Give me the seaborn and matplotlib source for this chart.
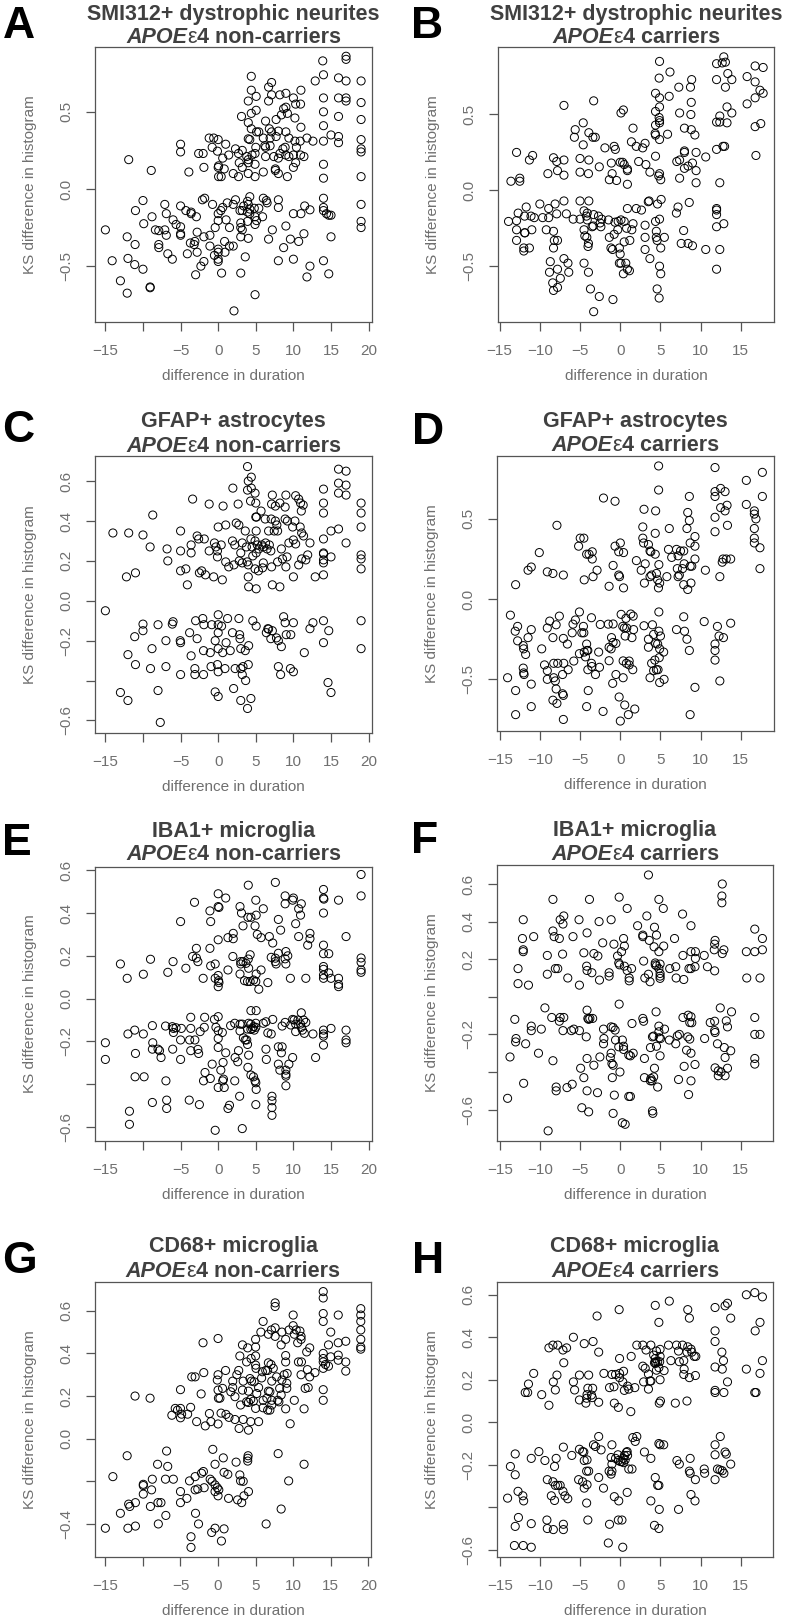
import matplotlib
matplotlib.use("Agg")
import matplotlib.pyplot as plt
import pandas as pd
import seaborn as sns

# (difference in duration, KS difference in histogram)
a_pts = [
    (17, 0.86), (17, 0.84), (13.9, 0.83), (14, 0.74), (12.9, 0.70), (16, 0.72), (17, 0.70), (19, 0.70),
    (4.4, 0.73), (7.1, 0.69), (6.7, 0.66), (4.4, 0.64), (5.05, 0.60), (4.0, 0.57), (6.7, 0.57), (7.1, 0.61),
    (8.2, 0.61), (9.0, 0.62), (10.0, 0.59), (11.0, 0.64), (10.3, 0.55), (10.95, 0.55), (14, 0.59), (16, 0.59),
    (17, 0.59), (17, 0.57), (19, 0.56), (8.7, 0.52), (9.0, 0.53), (5.05, 0.51), (4.4, 0.49), (3.1, 0.47),
    (6.3, 0.44), (7.7, 0.45), (8.4, 0.48), (9.2, 0.49), (10.2, 0.46), (11.0, 0.40), (14, 0.41), (14, 0.50),
    (16, 0.47), (19, 0.45), (4.0, 0.43), (4.4, 0.39), (5.1, 0.37), (5.4, 0.37), (6.8, 0.39), (7.1, 0.37),
    (8.0, 0.375), (9.0, 0.37), (7.7, 0.34), (4.0, 0.325), (4.2, 0.32), (6.0, 0.33), (6.2, 0.28), (6.9, 0.33),
    (9.4, 0.33), (10.2, 0.31), (10.9, 0.31), (11.8, 0.33), (12.6, 0.31), (14, 0.31), (15, 0.35), (16, 0.34),
    (16, 0.30), (19, 0.32), (19, 0.26), (19, 0.24), (-5, 0.29), (-5, 0.24), (-1.2, 0.33), (-0.6, 0.33),
    (0, 0.32), (-0.8, 0.27), (-0.1, 0.245), (1, 0.29), (1.4, 0.22), (2.3, 0.26), (2.7, 0.23), (3.2, 0.25),
    (3.8, 0.21), (4.0, 0.19), (4.0, 0.17), (4.5, 0.22), (4.9, 0.23), (5.0, 0.27), (6.3, 0.27), (6.9, 0.28),
    (7.4, 0.21), (8.2, 0.23), (8.6, 0.26), (8.9, 0.27), (9.0, 0.22), (9.4, 0.21), (10.0, 0.22), (10.4, 0.27),
    (10.3, 0.17), (10.95, 0.22), (11.4, 0.21), (10.0, 0.14), (8.0, 0.20), (6.3, 0.21), (4.9, 0.16), (3.2, 0.14),
    (2.8, 0.17), (2.0, 0.10), (2.7, 0.08), (4.0, 0.10), (4.9, 0.08), (6.0, 0.11), (7.6, 0.13), (7.6, 0.12),
    (8.0, 0.10), (9.2, 0.08), (0.05, 0.15), (0, 0.14), (0.05, 0.08), (0.4, 0.08), (0.8, 0.13), (0.6, 0.20),
    (-1.9, 0.14), (-2.6, 0.23), (-2.0, 0.23), (-3.9, 0.11), (-8.9, 0.12), (-11.9, 0.19), (14, 0.16), (14, 0.07),
    (19, 0.08),
    (-10, -0.075), (-11, -0.14), (-7.1, -0.10), (-6.9, -0.16), (-5, -0.11), (-4.3, -0.14), (-3.6, -0.15),
    (-3.6, -0.16), (-2.9, -0.18), (-2.1, -0.07), (-1.8, -0.06), (-0.75, -0.10), (0, -0.16), (0, -0.205),
    (0.35, -0.14), (0.6, -0.12), (1.2, -0.09), (2.0, -0.10), (2.3, -0.07), (2.9, -0.14), (3.2, -0.14),
    (3.4, -0.11), (3.9, -0.08), (4.0, -0.10), (4.2, -0.05), (4.2, -0.13), (4.8, -0.125), (3.9, -0.15),
    (4.2, -0.16), (4.9, -0.18), (5.4, -0.125), (5.9, -0.18), (6.0, -0.06), (6.4, -0.075), (6.5, -0.09),
    (8.0, -0.07), (8.0, -0.12), (10, -0.16), (11, -0.16), (11.5, -0.11), (12.2, -0.135), (14, -0.06),
    (14, -0.12), (14, -0.14), (14.4, -0.16), (14.7, -0.17), (15, -0.17), (19, -0.10), (19, -0.21), (19, -0.25),
    (-15, -0.265), (-8.35, -0.265), (-7.9, -0.36), (-7.9, -0.38), (-7.1, -0.265), (-6.9, -0.30), (-6.7, -0.42),
    (-6.1, -0.455), (-6.0, -0.20), (-5.6, -0.23), (-5, -0.245), (-5, -0.29), (-5, -0.30), (-4.1, -0.42),
    (-3.7, -0.35), (-3.2, -0.36), (-3.1, -0.34), (-2.8, -0.28), (-2.8, -0.41), (-3.0, -0.556), (-2.3, -0.50),
    (-1.9, -0.47), (-1.9, -0.31), (-1.1, -0.30), (-1.1, -0.37), (-0.5, -0.43), (-0.4, -0.25), (0, -0.39),
    (0, -0.41), (0, -0.455), (0, -0.47), (0.45, -0.545), (0.85, -0.34), (0.9, -0.41), (1.05, -0.20),
    (1.5, -0.25), (1.5, -0.37), (2.0, -0.37), (2.1, -0.79), (3.0, -0.545), (3.0, -0.31), (3.0, -0.25),
    (3.2, -0.265), (3.0, -0.22), (3.6, -0.44), (4.0, -0.32), (3.9, -0.21), (4.9, -0.23), (5.1, -0.205),
    (4.9, -0.685), (6.7, -0.325), (7.2, -0.265), (8.0, -0.465), (8.7, -0.38), (9.0, -0.24), (9.6, -0.325),
    (10, -0.455), (10.7, -0.34), (11.4, -0.29), (11.8, -0.57), (12.2, -0.50), (14, -0.465), (14.7, -0.55),
    (15, -0.31), (-9.05, -0.635), (-9.05, -0.64), (-12.1, -0.31), (-11.05, -0.36), (-12.0, -0.45),
    (-11.1, -0.49), (-10.0, -0.52), (-14.1, -0.465), (-13.0, -0.595), (-12.1, -0.675), (-9.9, -0.225),
    (-8.8, -0.18), (-7.9, -0.27),
]

b_pts = [
    (12.9, 0.88), (12.7, 0.84), (12.0, 0.835), (13.1, 0.845), (4.9, 0.85), (16.8, 0.82), (17.8, 0.81),
    (6.2, 0.78), (13.4, 0.77), (13.9, 0.73), (12.0, 0.73), (8.9, 0.73), (4.85, 0.74), (15.8, 0.75),
    (16.8, 0.715), (17.4, 0.66), (17.8, 0.64), (16.8, 0.61), (13.1, 0.68), (7.3, 0.68), (8.75, 0.68),
    (6.1, 0.62), (4.4, 0.64), (4.9, 0.61), (8.85, 0.58), (15.8, 0.57), (-3.3, 0.59), (-7.0, 0.56),
    (0.1, 0.51), (0.4, 0.53), (4.4, 0.52), (4.9, 0.55), (13.3, 0.55), (13.9, 0.51), (7.4, 0.51), (8.8, 0.50),
    (12.0, 0.45), (12.4, 0.49), (12.4, 0.45), (13.3, 0.445), (4.9, 0.46), (4.9, 0.445), (4.85, 0.48),
    (1.6, 0.41), (4.4, 0.43), (8.0, 0.41), (8.85, 0.40), (16.8, 0.42), (17.5, 0.44), (-5.6, 0.40),
    (-4.6, 0.445), (-3.9, 0.38), (-5.7, 0.35), (-3.4, 0.35), (-3.1, 0.35), (4.35, 0.375), (4.4, 0.364),
    (5.9, 0.37), (9.3, 0.365), (-4.6, 0.30), (-1.9, 0.28), (-0.75, 0.29), (-0.6, 0.27), (1.4, 0.32),
    (2.0, 0.29), (2.8, 0.28), (3.1, 0.31), (4.9, 0.335), (12.0, 0.27), (12.8, 0.29), (13.0, 0.29),
    (8.0, 0.26), (8.0, 0.25), (9.45, 0.25), (10.65, 0.22), (16.9, 0.23), (-12.9, 0.25), (-10.9, 0.23),
    (-11.3, 0.20), (-8.3, 0.215), (-7.9, 0.19), (-7.0, 0.20), (-5.0, 0.21), (-3.9, 0.20), (-2.6, 0.155),
    (-1.1, 0.18), (0.0, 0.185), (0.3, 0.185), (0.5, 0.17), (0.9, 0.14), (0.9, 0.13), (2.3, 0.19),
    (3.2, 0.17), (3.7, 0.12), (4.4, 0.225), (4.8, 0.095), (4.9, 0.11), (5.05, 0.07), (7.05, 0.19),
    (7.4, 0.20), (8.0, 0.145), (8.45, 0.16), (9.0, 0.18), (9.45, 0.13), (9.45, 0.05), (12.4, 0.05),
    (-7.8, 0.13), (-7.0, 0.10), (-9.0, 0.11), (-5.0, 0.12), (-3.95, 0.11), (-1.35, 0.07), (-0.45, 0.065),
    (-1.0, 0.11), (0.9, 0.04), (7.4, 0.08), (-12.5, 0.06), (-13.6, 0.06), (-12.5, 0.08),
    (-10, -0.09), (-8.9, -0.12), (-8.1, -0.09), (-7.0, -0.07), (-5.0, -0.07), (-3.9, -0.07), (-4.5, -0.135),
    (-4.1, -0.15), (-4.2, -0.17), (-4.1, -0.195), (-3.3, -0.16), (-2.7, -0.17), (-2.3, -0.19), (-1.45, -0.195),
    (-0.65, -0.21), (-0.25, -0.205), (0.1, -0.195), (0.5, -0.205), (0.9, -0.12), (2.0, -0.12), (2.65, -0.13),
    (3.5, -0.075), (3.6, -0.07), (4.65, -0.09), (5.1, -0.06), (7.2, -0.11), (7.0, -0.15), (8.6, -0.08),
    (12.0, -0.12), (12.0, -0.13), (12.0, -0.16), (12.9, -0.22), (12.0, -0.24), (12.4, -0.39), (10.65, -0.39),
    (12.0, -0.52), (7.9, -0.265), (7.6, -0.35), (8.45, -0.35), (9.0, -0.365), (-13.9, -0.205),
    (-12.9, -0.20), (-12.7, -0.15), (-11.9, -0.17), (-11.9, -0.28), (-11.85, -0.28), (-11.7, -0.11),
    (-11.1, -0.17), (-10.7, -0.18), (-11.0, -0.26), (-12.9, -0.26), (-12.9, -0.33), (-12.0, -0.38),
    (-12.0, -0.40), (-11.3, -0.38), (-9.65, -0.18), (-9.2, -0.26), (-8.9, -0.18), (-8.3, -0.27),
    (-8.2, -0.33), (-8.3, -0.38), (-7.9, -0.155), (-7.8, -0.33), (-8.7, -0.47), (-8.8, -0.54), (-8.4, -0.61),
    (-8.3, -0.66), (-7.8, -0.64), (-7.8, -0.52), (-7.45, -0.58), (-7.0, -0.45), (-6.5, -0.48), (-6.4, -0.54),
    (-6.7, -0.155), (-5.85, -0.19), (-5.0, -0.19), (-4.5, -0.26), (-4.4, -0.30), (-4.5, -0.48), (-4.15, -0.31),
    (-4.0, -0.37), (-3.95, -0.35), (-3.95, -0.54), (-3.7, -0.65), (-3.5, -0.24), (-3.35, -0.235),
    (-2.5, -0.215), (-2.4, -0.24), (-2.6, -0.70), (-3.3, -0.80), (-1.35, -0.31), (-1.15, -0.38), (-0.95, -0.39),
    (-0.75, -0.29), (-0.3, -0.26), (-0.9, -0.72), (-0.1, -0.38), (0.0, -0.42), (-0.1, -0.48), (0.1, -0.48),
    (0.4, -0.55), (0.7, -0.48), (0.9, -0.52), (1.15, -0.53), (0.5, -0.34), (1.2, -0.33), (1.45, -0.26),
    (0.8, -0.25), (1.6, -0.22), (3.1, -0.23), (3.1, -0.31), (3.1, -0.39), (3.7, -0.45), (4.4, -0.205),
    (4.5, -0.27), (4.5, -0.31), (4.6, -0.33), (4.6, -0.65), (4.85, -0.71), (5.05, -0.55), (4.9, -0.50),
    (5.05, -0.38), (4.9, -0.19), (5.5, -0.31),
]

c_pts = [
    (3.9, 0.673), (4.4, 0.62), (4.0, 0.60), (3.9, 0.555), (4.4, 0.565), (4.9, 0.54), (4.3, 0.50), (5.0, 0.49),
    (1.95, 0.565), (-3.4, 0.51), (-1.2, 0.485), (0.65, 0.475), (2.65, 0.485), (7.2, 0.53), (9.0, 0.53),
    (10.3, 0.527), (10.7, 0.51), (10.95, 0.49), (11.3, 0.48), (11.05, 0.45), (7.1, 0.485), (7.6, 0.475),
    (8.2, 0.49), (8.9, 0.47), (14, 0.56), (14, 0.49), (14, 0.44), (16, 0.66), (17, 0.65), (16, 0.59),
    (17, 0.58), (16, 0.54), (17, 0.53), (19, 0.49), (19, 0.44), (19, 0.37), (5.0, 0.42), (5.1, 0.42),
    (5.7, 0.45), (6.25, 0.41), (7.05, 0.41), (7.6, 0.40), (8.9, 0.41), (9.2, 0.40), (10.2, 0.40), (9.9, 0.37),
    (10.9, 0.37), (11.1, 0.34), (11.35, 0.325), (7.8, 0.38), (7.45, 0.35), (7.9, 0.35), (6.7, 0.35),
    (5.05, 0.35), (3.6, 0.35), (1.0, 0.38), (0.0, 0.37), (2.4, 0.39), (2.75, 0.38), (4.35, 0.31), (3.0, 0.24),
    (3.2, 0.29), (3.75, 0.27), (4.5, 0.27), (4.9, 0.30), (5.2, 0.28), (5.8, 0.28), (6.0, 0.27), (6.3, 0.29),
    (6.8, 0.28), (6.5, 0.26), (7.0, 0.25), (8.4, 0.26), (9.4, 0.29), (10.0, 0.305), (10.3, 0.285), (12.2, 0.29),
    (12.9, 0.12), (14, 0.31), (14, 0.24), (14, 0.235), (14, 0.205), (14, 0.19), (14, 0.13), (15, 0.22),
    (15, 0.35), (16, 0.36), (17, 0.29), (19, 0.23), (19, 0.21), (19, 0.16), (-14, 0.34), (-11.9, 0.34),
    (-10.0, 0.33), (-8.7, 0.43), (-9.05, 0.27), (-12.2, 0.12), (-11.0, 0.14), (-6.8, 0.26), (-6.7, 0.20),
    (-5.0, 0.35), (-5.0, 0.25), (-5.0, 0.15), (-4.3, 0.16), (-4.1, 0.08), (-3.6, 0.28), (-3.6, 0.24),
    (-2.8, 0.325), (-2.6, 0.31), (-1.85, 0.31), (-2.5, 0.14), (-2.2, 0.15), (-1.7, 0.13), (-1.2, 0.25),
    (-0.5, 0.29), (-0.3, 0.27), (-0.1, 0.25), (-0.1, 0.22), (-0.6, 0.12), (0.55, 0.105), (0.4, 0.28),
    (1.0, 0.195), (1.4, 0.17), (1.9, 0.30), (2.1, 0.18), (2.2, 0.28), (2.8, 0.20), (3.2, 0.19), (3.85, 0.195),
    (4.0, 0.18), (4.0, 0.12), (4.05, 0.07), (5.05, 0.06), (4.9, 0.16), (5.35, 0.15), (6.0, 0.19), (5.9, 0.165),
    (7.1, 0.17), (7.2, 0.08), (8.2, 0.07), (7.9, 0.195), (8.55, 0.21), (9.0, 0.17), (9.15, 0.22), (10.0, 0.12),
    (10.7, 0.18), (11.1, 0.21), (11.65, 0.205), (11.9, 0.23), (4.6, 0.225), (5.05, 0.24), (5.4, 0.26),
    (-15, -0.05), (-10, -0.117), (-6.0, -0.105), (-6.1, -0.117), (-8.0, -0.12), (-10, -0.15), (-11.1, -0.18),
    (-3.0, -0.10), (-2.05, -0.089), (-1.9, -0.12), (-0.85, -0.12), (0, -0.07), (0, -0.12), (0.45, -0.127),
    (1.25, -0.089), (2.75, -0.089), (4.6, -0.10), (5.05, -0.127), (6.7, -0.142), (6.6, -0.14), (6.4, -0.16),
    (7.0, -0.19), (7.2, -0.15), (7.75, -0.186), (8.0, -0.20), (8.4, -0.23), (8.7, -0.08), (8.9, -0.11),
    (9.05, -0.17), (9.65, -0.17), (10.0, -0.11), (12.2, -0.14), (12.6, -0.11), (14, -0.10), (14, -0.21),
    (14.7, -0.15), (19, -0.10), (19, -0.24), (11.45, -0.26), (-5.05, -0.20), (-5.0, -0.21), (-3.8, -0.16),
    (-2.8, -0.19), (-1.95, -0.25), (-1.05, -0.26), (-0.4, -0.20), (0, -0.16), (0, -0.24), (0.6, -0.26),
    (1.05, -0.21), (1.6, -0.25), (1.9, -0.16), (2.85, -0.17), (2.9, -0.19), (3.0, -0.24), (3.6, -0.25),
    (4.05, -0.225), (-3.6, -0.276), (-3.1, -0.34), (-3.1, -0.37), (-1.95, -0.37), (-0.95, -0.33),
    (-0.1, -0.32), (0, -0.356), (0.9, -0.34), (2.25, -0.34), (3.0, -0.34), (3.2, -0.37), (3.3, -0.33),
    (4.0, -0.32), (3.65, -0.40), (2.05, -0.44), (-0.4, -0.457), (0, -0.48), (3.0, -0.50), (3.9, -0.54),
    (4.35, -0.49), (8.0, -0.33), (8.3, -0.37), (9.6, -0.34), (10.0, -0.356), (14.6, -0.41), (15, -0.46),
    (-5.0, -0.37), (-6.95, -0.33), (-9.0, -0.34), (-11.0, -0.32), (-12.0, -0.27), (-8.8, -0.24),
    (-6.95, -0.20), (-13.0, -0.46), (-12.0, -0.50), (-8.0, -0.45), (-7.7, -0.61),
]

d_pts = [
    (4.77, 0.83), (11.8, 0.82), (17.7, 0.79), (15.7, 0.74), (4.77, 0.68), (11.8, 0.67), (12.5, 0.69),
    (13.05, 0.67), (11.8, 0.64), (8.6, 0.64), (17.7, 0.64), (-2.1, 0.63), (-0.66, 0.61), (15.7, 0.59),
    (12.5, 0.57), (13.05, 0.55), (13.3, 0.585), (16.7, 0.55), (16.7, 0.53), (16.9, 0.50), (2.95, 0.56),
    (4.4, 0.55), (8.4, 0.54), (8.6, 0.49), (11.8, 0.51), (-7.9, 0.46), (13.35, 0.46), (2.8, 0.45), (6.1, 0.44),
    (8.3, 0.44), (16.7, 0.44), (11.8, 0.42), (4.35, 0.41), (16.7, 0.38), (16.7, 0.35), (17.4, 0.32),
    (9.3, 0.39), (-5.2, 0.33), (-5.0, 0.38), (-4.55, 0.38), (2.8, 0.38), (2.9, 0.35), (3.5, 0.34), (3.7, 0.30),
    (3.8, 0.295), (4.35, 0.28), (0.0, 0.35), (-0.66, 0.33), (-0.2, 0.295), (0.4, 0.29), (-4.2, 0.28),
    (-3.9, 0.28), (-3.5, 0.295), (-3.5, 0.25), (-10.1, 0.29), (6.0, 0.31), (7.0, 0.31), (7.2, 0.27),
    (7.5, 0.30), (7.9, 0.30), (8.7, 0.35), (9.3, 0.33), (9.3, 0.25), (12.8, 0.25), (13.2, 0.25), (13.75, 0.25),
    (12.7, 0.23), (17.4, 0.19), (-11.1, 0.20), (-11.5, 0.18), (-9.1, 0.17), (-8.4, 0.16), (-7.1, 0.15),
    (-3.4, 0.14), (-2.9, 0.18), (-0.9, 0.21), (-0.2, 0.15), (-0.1, 0.14), (-1.4, 0.08), (0.4, 0.07),
    (-4.5, 0.12), (-13.05, 0.09), (2.0, 0.24), (2.6, 0.18), (3.1, 0.22), (3.0, 0.10), (3.7, 0.14), (3.9, 0.15),
    (4.5, 0.16), (4.8, 0.215), (4.65, 0.12), (4.9, 0.10), (4.75, 0.07), (5.8, 0.14), (7.1, 0.19), (7.2, 0.14),
    (7.35, 0.15), (7.75, 0.19), (7.9, 0.09), (8.4, 0.06), (8.7, 0.205), (8.9, 0.205), (8.8, 0.10), (10.6, 0.18),
    (12.4, 0.14), (7.95, 0.22), (6.4, 0.26),
    (-13.7, -0.10), (-12.8, -0.17), (-13.1, -0.20), (-12.8, -0.26), (-12.1, -0.29), (-12.05, -0.31),
    (-11.8, -0.345), (-11.5, -0.24), (-11.1, -0.19), (-12.1, -0.43), (-12.05, -0.46), (-12.0, -0.47),
    (-11.1, -0.53), (-14.05, -0.49), (-13.05, -0.57), (-13.05, -0.72), (-11.1, -0.67), (-9.8, -0.31),
    (-9.45, -0.41), (-9.1, -0.446), (-9.1, -0.50), (-9.1, -0.18), (-8.8, -0.137), (-8.4, -0.24),
    (-8.3, -0.40), (-8.3, -0.49), (-8.1, -0.51), (-8.0, -0.56), (-8.4, -0.63), (-7.9, -0.65), (-8.0, -0.16),
    (-7.6, -0.106), (-7.2, -0.59), (-7.1, -0.60), (-7.1, -0.75), (-7.1, -0.245), (-7.05, -0.40), (-6.6, -0.28),
    (-6.5, -0.44), (-7.8, -0.40), (-7.2, -0.47), (-5.8, -0.386), (-6.0, -0.21), (-5.9, -0.156), (-5.6, -0.13),
    (-5.1, -0.08), (-5.1, -0.34), (-4.8, -0.21), (-4.55, -0.21), (-4.6, -0.17), (-4.5, -0.33), (-4.35, -0.36),
    (-4.2, -0.28), (-4.15, -0.32), (-4.05, -0.32), (-4.05, -0.44), (-4.0, -0.57), (-4.2, -0.67), (-3.6, -0.116),
    (-3.6, -0.40), (-3.55, -0.42), (-3.1, -0.47), (-2.6, -0.425), (-2.5, -0.158), (-2.7, -0.33), (-2.15, -0.70),
    (-1.4, -0.384), (-1.5, -0.156), (-1.4, -0.30), (-1.15, -0.31), (-1.1, -0.24), (-0.95, -0.525), (-0.9, -0.27),
    (-0.55, -0.276), (-0.9, -0.155), (-0.55, -0.47), (-0.15, -0.61), (0.0, -0.76), (0.1, -0.095), (0.3, -0.17),
    (0.5, -0.18), (0.35, -0.49), (0.55, -0.66), (0.7, -0.12), (0.8, -0.18), (0.6, -0.23), (0.35, -0.385),
    (0.75, -0.40), (1.1, -0.386), (1.1, -0.41), (1.3, -0.093), (1.6, -0.106), (1.45, -0.24), (1.55, -0.44),
    (1.0, -0.72), (1.8, -0.685), (1.65, -0.19), (2.95, -0.166), (3.5, -0.25), (3.5, -0.30), (3.7, -0.49),
    (4.0, -0.16), (3.9, -0.40), (4.15, -0.22), (4.15, -0.446), (4.3, -0.38), (4.5, -0.44), (4.7, -0.44),
    (4.4, -0.276), (4.8, -0.20), (5.0, -0.23), (4.65, -0.28), (4.85, -0.365), (4.9, -0.31), (4.8, -0.08),
    (4.9, -0.52), (5.4, -0.33), (5.45, -0.50), (7.0, -0.19), (7.9, -0.11), (8.0, -0.20), (8.3, -0.25),
    (8.6, -0.32), (9.3, -0.55), (8.7, -0.72), (10.45, -0.14), (12.1, -0.17), (12.3, -0.23), (11.8, -0.28),
    (11.8, -0.32), (11.8, -0.38), (12.85, -0.24), (12.4, -0.51), (13.75, -0.15),
]

e_pts = [
    (19, 0.58), (19, 0.48), (7.6, 0.543), (4.0, 0.53), (0, 0.49), (1.0, 0.47), (0, 0.43), (0.1, 0.426),
    (-3.15, 0.45), (-1.1, 0.41), (-1.0, 0.36), (-5.0, 0.36), (2.9, 0.43), (3.1, 0.40), (3.95, 0.38),
    (4.35, 0.38), (5.0, 0.46), (5.05, 0.39), (6.0, 0.42), (4.9, 0.34), (3.3, 0.34), (8.9, 0.48), (10.0, 0.47),
    (9.9, 0.46), (11.05, 0.443), (10.7, 0.42), (10.95, 0.39), (8.9, 0.443), (8.0, 0.37), (8.3, 0.32),
    (10.3, 0.35), (14, 0.51), (14, 0.47), (14.05, 0.465), (14, 0.40), (16, 0.46), (17, 0.29), (14, 0.25),
    (14, 0.21), (14.7, 0.21), (14, 0.15), (14, 0.137), (14, 0.11), (14, 0.095), (14.7, 0.12), (15, 0.095),
    (16, 0.095), (16, 0.056), (16, 0.067), (19, 0.19), (19, 0.17), (19, 0.134), (19, 0.123), (10.7, 0.29),
    (11.9, 0.25), (12.2, 0.28), (12.2, 0.305), (11.65, 0.095), (9.6, 0.095), (6.8, 0.29), (7.25, 0.26),
    (5.2, 0.30), (5.7, 0.285), (2.0, 0.305), (2.0, 0.28), (1.3, 0.285), (0, 0.275), (-2.9, 0.235),
    (-1.1, 0.235), (-3.4, 0.197), (-2.9, 0.19), (-2.7, 0.173), (1.95, 0.197), (3.0, 0.173), (3.0, 0.162),
    (3.3, 0.173), (4.0, 0.185), (4.25, 0.205), (4.05, 0.142), (2.9, 0.115), (3.9, 0.08), (4.25, 0.08),
    (4.7, 0.087), (5.05, 0.115), (5.0, 0.08), (5.4, 0.044), (5.7, 0.134), (6.6, 0.075), (7.05, 0.193),
    (7.6, 0.189), (7.6, 0.173), (7.7, 0.162), (8.0, 0.212), (9.0, 0.22), (9.25, 0.20), (8.9, 0.186),
    (9.0, 0.162), (3.5, 0.084), (3.7, 0.165), (-0.4, 0.162), (-1.0, 0.153), (-0.4, 0.095), (0, 0.108),
    (0.05, 0.084), (0, 0.056), (0.1, 0.075), (1.3, 0.134), (-2.0, 0.095), (-4.3, 0.142), (-6.0, 0.173),
    (-6.7, 0.123), (-9.0, 0.184), (-9.95, 0.114), (-13.0, 0.162), (-12.1, 0.095),
    (-15, -0.206), (-15, -0.284), (-12.0, -0.165), (-11.1, -0.147), (-9.95, -0.165), (-11.0, -0.256),
    (-11.05, -0.365), (-9.85, -0.365), (-11.8, -0.526), (-11.8, -0.587), (-8.75, -0.126), (-8.7, -0.206),
    (-8.75, -0.236), (-8.0, -0.236), (-7.8, -0.243), (-7.6, -0.275), (-7.0, -0.128), (-6.1, -0.131),
    (-5.95, -0.139), (-5.95, -0.158), (-5.6, -0.136), (-6.05, -0.236), (-6.95, -0.384), (-6.85, -0.474),
    (-6.85, -0.513), (-8.75, -0.485), (-4.9, -0.139), (-5.0, -0.193), (-5.0, -0.284), (-3.65, -0.087),
    (-3.65, -0.139), (-3.8, -0.193), (-3.65, -0.243), (-3.85, -0.474), (-3.1, -0.193), (-2.7, -0.237),
    (-2.6, -0.256), (-2.5, -0.495), (-2.4, -0.154), (-1.8, -0.087), (-1.85, -0.134), (-1.75, -0.345),
    (-1.95, -0.384), (-1.05, -0.373), (-0.8, -0.306), (-0.5, -0.097), (-0.3, -0.134), (0, -0.084),
    (0, -0.15), (0, -0.186), (0, -0.228), (-0.4, -0.615), (0, -0.415), (0.35, -0.334), (0.55, -0.158),
    (0.65, -0.298), (0.7, -0.376), (0.8, -0.415), (0.6, -0.384), (1.0, -0.253), (1.3, -0.513), (1.5, -0.498),
    (1.65, -0.126), (2.2, -0.115), (2.25, -0.275), (2.2, -0.384), (2.6, -0.295), (2.7, -0.243), (2.85, -0.456),
    (2.9, -0.119), (2.9, -0.151), (3.2, -0.119), (3.2, -0.607), (3.35, -0.183), (3.6, -0.193), (3.8, -0.193),
    (3.9, -0.142), (3.9, -0.214), (4.05, -0.115), (4.05, -0.264), (3.95, -0.321), (4.35, -0.119),
    (4.35, -0.144), (4.35, -0.357), (4.55, -0.139), (4.7, -0.131), (4.8, -0.147), (4.35, -0.056),
    (5.05, -0.056), (5.0, -0.115), (5.0, -0.134), (4.9, -0.384), (5.0, -0.393), (5.05, -0.424), (5.0, -0.495),
    (4.7, -0.365), (6.0, -0.115), (6.35, -0.108), (6.6, -0.16), (7.05, -0.165), (7.25, -0.097), (6.35, -0.236),
    (6.4, -0.284), (7.15, -0.456), (7.15, -0.477), (7.15, -0.509), (7.15, -0.545), (8.0, -0.225),
    (8.5, -0.225), (8.4, -0.253), (8.0, -0.306), (8.2, -0.334), (8.5, -0.128), (9.0, -0.334), (9.0, -0.353),
    (9.0, -0.362), (9.0, -0.407), (9.4, -0.306), (9.9, -0.275), (9.65, -0.123), (9.9, -0.097), (10.1, -0.1),
    (10.3, -0.119), (10.3, -0.154), (10.6, -0.1), (11.05, -0.066), (10.95, -0.119), (11.05, -0.134),
    (11.2, -0.147), (11.35, -0.1), (11.45, -0.162), (11.65, -0.111), (12.6, -0.165), (12.95, -0.275),
    (14, -0.147), (14, -0.165), (14, -0.175), (14, -0.217), (15, -0.139), (17, -0.147), (17, -0.193),
    (17, -0.206), (8.9, -0.111),
]

f_pts = [
    (3.5, 0.648), (12.7, 0.60), (12.65, 0.536), (12.65, 0.50), (-8.4, 0.518), (-3.85, 0.518), (-0.15, 0.53),
    (4.8, 0.518), (5.35, 0.47), (0.85, 0.47), (7.75, 0.44), (3.3, 0.43), (-7.05, 0.43), (-7.5, 0.41),
    (-12.1, 0.41), (-5.15, 0.41), (-1.15, 0.41), (-2.65, 0.40), (-7.15, 0.387), (2.15, 0.378), (4.25, 0.37),
    (8.8, 0.378), (16.75, 0.36), (-8.4, 0.35), (-8.25, 0.32), (-7.6, 0.31), (-10.8, 0.32), (-12.2, 0.31),
    (-5.9, 0.32), (-4.15, 0.34), (2.8, 0.328), (2.8, 0.32), (3.6, 0.30), (4.5, 0.328), (0.4, 0.31), (-0.8, 0.28),
    (0.5, 0.27), (-2.2, 0.287), (6.75, 0.31), (5.4, 0.27), (4.2, 0.266), (11.8, 0.30), (11.75, 0.28),
    (17.7, 0.31), (-12.1, 0.25), (-12.1, 0.24), (-9.1, 0.22), (-7.2, 0.227), (-3.3, 0.23), (-2.8, 0.217),
    (-4.55, 0.234), (-0.35, 0.217), (0.15, 0.24), (4.8, 0.24), (7.8, 0.22), (8.8, 0.24), (9.35, 0.24),
    (10.45, 0.22), (11.7, 0.25), (12.7, 0.23), (12.9, 0.25), (15.7, 0.24), (16.75, 0.24), (17.7, 0.25),
    (9.35, 0.204), (-0.2, 0.18), (-0.1, 0.17), (0.5, 0.163), (1.4, 0.15), (0.85, 0.14), (1.1, 0.10),
    (1.1, 0.085), (-4.2, 0.163), (-4.15, 0.14), (-3.55, 0.128), (-1.4, 0.128), (-1.4, 0.11), (-2.6, 0.089),
    (-5.1, 0.062), (-6.55, 0.10), (-9.1, 0.12), (-8.1, 0.15), (-7.8, 0.15), (-12.75, 0.15), (-12.75, 0.07),
    (-11.45, 0.062), (2.9, 0.19), (3.05, 0.10), (3.7, 0.08), (3.5, 0.12), (4.35, 0.18), (4.35, 0.17),
    (4.5, 0.165), (4.8, 0.15), (4.95, 0.124), (4.95, 0.11), (4.95, 0.098), (4.95, 0.174), (6.15, 0.15),
    (6.9, 0.16), (6.95, 0.10), (7.9, 0.092), (8.55, 0.15), (8.8, 0.15), (9.3, 0.16), (10.85, 0.16),
    (11.75, 0.138), (15.75, 0.10), (17.4, 0.10),
    (-0.15, -0.039), (-9.4, -0.059), (-8.55, -0.11), (-7.5, -0.11), (-7.6, -0.13), (-7.05, -0.11),
    (-13.15, -0.12), (-11.1, -0.156), (-11.1, -0.18), (-9.85, -0.172), (-7.15, -0.18), (-6.1, -0.18),
    (-5.8, -0.172), (-5.1, -0.18), (-4.15, -0.071), (-4.05, -0.115), (-3.95, -0.12), (-3.8, -0.115),
    (-3.45, -0.115), (-4.25, -0.213), (-2.1, -0.172), (-2.05, -0.222), (-2.1, -0.25), (-1.15, -0.16),
    (-0.9, -0.163), (-0.65, -0.177), (-0.6, -0.23), (-0.2, -0.266), (0.25, -0.23), (0.4, -0.263), (0.4, -0.28),
    (1.05, -0.31), (1.25, -0.314), (1.6, -0.30), (1.45, -0.142), (-1.15, -0.30), (-1.25, -0.323),
    (-1.05, -0.355), (-0.9, -0.364), (-1.0, -0.43), (-0.05, -0.40), (-2.55, -0.32), (-3.3, -0.364),
    (-4.15, -0.328), (-4.95, -0.38), (-4.55, -0.43), (-4.15, -0.50), (-2.85, -0.51), (-4.8, -0.59),
    (-3.95, -0.612), (-0.9, -0.62), (-0.75, -0.523), (0.25, -0.67), (0.6, -0.678), (1.05, -0.53), (1.25, -0.53),
    (-6.0, -0.465), (-6.65, -0.483), (-8.0, -0.48), (-8.0, -0.50), (-9.0, -0.713), (-8.4, -0.34),
    (-10.2, -0.30), (-13.0, -0.222), (-13.05, -0.24), (-11.8, -0.25), (-13.75, -0.32), (-12.05, -0.46),
    (-14.05, -0.54), (2.8, -0.115), (2.9, -0.13), (3.0, -0.328), (3.0, -0.43), (3.8, -0.435), (3.75, -0.447),
    (4.15, -0.426), (3.95, -0.447), (4.0, -0.607), (4.05, -0.62), (4.25, -0.38), (3.75, -0.27), (4.5, -0.263),
    (4.0, -0.213), (4.15, -0.209), (4.65, -0.48), (4.45, -0.08), (4.8, -0.156), (4.8, -0.186), (4.85, -0.218),
    (5.0, -0.222), (4.95, -0.314), (5.5, -0.172), (6.1, -0.23), (6.9, -0.25), (7.1, -0.208), (7.35, -0.2),
    (7.25, -0.44), (7.95, -0.37), (7.8, -0.11), (8.4, -0.213), (8.25, -0.284), (8.45, -0.098), (8.8, -0.106),
    (8.65, -0.137), (8.9, -0.138), (8.65, -0.225), (8.8, -0.30), (8.8, -0.447), (8.5, -0.52), (9.3, -0.36),
    (10.5, -0.222), (11.2, -0.137), (11.75, -0.13), (11.75, -0.18), (11.8, -0.19), (12.1, -0.25),
    (11.8, -0.378), (12.2, -0.394), (12.2, -0.42), (12.45, -0.059), (12.55, -0.40), (12.95, -0.27),
    (13.05, -0.323), (13.05, -0.42), (13.2, -0.128), (13.35, -0.16), (13.35, -0.38), (13.75, -0.287),
    (13.85, -0.08), (16.75, -0.11), (16.75, -0.2), (17.4, -0.2), (16.75, -0.328), (16.75, -0.358),
]

g_pts = [
    (14, 0.69), (14, 0.66), (7.6, 0.637), (7.6, 0.62), (14, 0.587), (14, 0.55), (16, 0.58), (10.0, 0.58),
    (19, 0.61), (19, 0.58), (19, 0.55), (19, 0.51), (19, 0.466), (19, 0.43), (19, 0.42), (6.0, 0.55),
    (7.6, 0.52), (6.7, 0.49), (7.1, 0.51), (8.5, 0.50), (9.45, 0.51), (10.0, 0.53), (10.4, 0.51),
    (10.9, 0.505), (11.05, 0.48), (10.6, 0.45), (11.05, 0.466), (10.15, 0.49), (9.0, 0.466), (8.4, 0.44),
    (7.6, 0.48), (5.7, 0.50), (5.0, 0.466), (5.0, 0.43), (3.95, 0.426), (3.25, 0.44), (4.4, 0.376),
    (2.9, 0.388), (3.8, 0.36), (5.0, 0.388), (5.0, 0.345), (5.05, 0.33), (9.0, 0.39), (9.0, 0.36),
    (12.2, 0.426), (11.8, 0.407), (11.1, 0.36), (10.7, 0.36), (14, 0.40), (14, 0.376), (14, 0.36),
    (14.3, 0.348), (14, 0.33), (14.7, 0.34), (15, 0.384), (16, 0.392), (16, 0.368), (17, 0.36), (17, 0.317),
    (17, 0.457), (15, 0.50), (14.7, 0.44), (16, 0.45), (14, 0.23), (14, 0.18), (12.2, 0.29), (12.9, 0.31),
    (11.9, 0.324), (11.05, 0.30), (11.6, 0.236), (12.0, 0.24), (11.45, 0.14), (10.15, 0.18), (9.6, 0.07),
    (9.0, 0.14), (9.15, 0.236), (9.15, 0.26), (9.2, 0.306), (8.8, 0.30), (8.5, 0.275), (8.2, 0.236),
    (8.4, 0.205), (7.35, 0.33), (7.05, 0.348), (6.7, 0.356), (6.6, 0.32), (7.8, 0.29), (7.15, 0.27),
    (6.35, 0.32), (5.9, 0.314), (5.8, 0.285), (6.7, 0.223), (6.9, 0.22), (6.5, 0.19), (7.15, 0.18),
    (7.95, 0.18), (8.1, 0.173), (7.15, 0.158), (6.6, 0.134), (6.9, 0.134), (6.0, 0.145), (6.0, 0.18),
    (5.15, 0.212), (5.4, 0.24), (5.0, 0.142), (4.7, 0.176), (4.35, 0.184), (4.05, 0.223), (4.05, 0.17),
    (3.8, 0.173), (4.05, 0.04), (4.35, 0.08), (5.4, 0.08), (4.25, 0.282), (4.45, 0.27), (4.8, 0.267),
    (3.35, 0.27), (2.75, 0.32), (2.5, 0.30), (1.95, 0.27), (2.25, 0.197), (1.95, 0.24), (3.25, 0.228),
    (3.0, 0.158), (2.8, 0.048), (3.35, 0.09), (2.25, 0.09), (1.45, 0.10), (1.05, 0.114), (0.4, 0.12),
    (-1.15, 0.118), (-0.95, 0.08), (0, 0.069), (-1.7, 0.06), (-2.85, 0.08), (-4.05, 0.115), (-3.65, 0.147),
    (-4.85, 0.115), (-5.0, 0.142), (-5.0, 0.098), (-5.4, 0.134), (-5.7, 0.142), (-6.15, 0.11), (-5.0, 0.23),
    (-3.5, 0.29), (-3.05, 0.29), (-2.25, 0.21), (-1.9, 0.31), (-2.0, 0.45), (0, 0.47), (0, 0.30),
    (-0.1, 0.275), (1.0, 0.32), (0.6, 0.236), (0.05, 0.19), (0, 0.228), (0.25, 0.19), (1.7, 0.22),
    (-11.05, 0.20), (-9.05, 0.19),
    (-0.7, -0.05), (0.7, -0.09), (-6.85, -0.058), (-12.1, -0.08), (-8.05, -0.12), (-6.7, -0.13),
    (-9.95, -0.214), (-9.95, -0.22), (-8.75, -0.19), (-8.0, -0.30), (-8.85, -0.24), (-9.95, -0.26),
    (-11.0, -0.30), (-11.9, -0.307), (-11.75, -0.318), (-13.0, -0.35), (-14.0, -0.178), (-15, -0.42),
    (-12.0, -0.42), (-11.0, -0.41), (-9.0, -0.318), (-7.95, -0.40), (-6.95, -0.36), (-7.6, -0.30),
    (-7.0, -0.19), (-5.95, -0.19), (-5.0, -0.248), (-5.0, -0.30), (-4.15, -0.28), (-3.8, -0.198),
    (-3.6, -0.46), (-3.6, -0.51), (-3.0, -0.35), (-3.05, -0.24), (-3.05, -0.178), (-2.7, -0.236),
    (-2.6, -0.40), (-2.2, -0.162), (-1.95, -0.154), (-1.85, -0.23), (-1.05, -0.19), (-0.8, -0.20),
    (-0.4, -0.217), (-0.4, -0.12), (-0.4, -0.248), (-0.1, -0.23), (0, -0.268), (0.1, -0.24), (-0.85, -0.44),
    (-0.4, -0.42), (0.8, -0.423), (0.45, -0.48), (0.8, -0.158), (1.3, -0.167), (1.4, -0.28), (2.4, -0.11),
    (2.6, -0.287), (2.9, -0.17), (3.0, -0.198), (3.15, -0.30), (3.35, -0.20), (3.45, -0.268), (4.05, -0.248),
    (3.95, -0.105), (4.0, -0.08), (3.95, -0.092), (6.4, -0.40), (8.0, -0.07), (8.4, -0.33), (9.4, -0.198),
    (11.45, -0.12),
]

h_pts = [
    (15.7, 0.60), (16.75, 0.61), (17.7, 0.59), (13.35, 0.56), (13.05, 0.548), (11.8, 0.54), (13.75, 0.49),
    (17.4, 0.47), (16.8, 0.43), (11.8, 0.43), (11.8, 0.38), (6.1, 0.57), (4.35, 0.55), (-0.15, 0.53),
    (-2.9, 0.50), (4.8, 0.47), (8.4, 0.53), (8.6, 0.49), (-5.85, 0.40), (-4.5, 0.37), (-3.4, 0.38),
    (-8.9, 0.35), (-8.4, 0.363), (-7.8, 0.363), (-6.7, 0.35), (-7.15, 0.34), (-2.7, 0.33), (-7.05, 0.28),
    (-0.1, 0.30), (1.35, 0.31), (2.05, 0.363), (2.8, 0.363), (3.2, 0.34), (3.8, 0.363), (4.15, 0.316),
    (4.5, 0.335), (4.4, 0.285), (4.25, 0.28), (4.4, 0.277), (4.35, 0.30), (4.65, 0.285), (4.95, 0.343),
    (4.95, 0.31), (4.9, 0.285), (4.8, 0.257), (4.5, 0.245), (6.0, 0.363), (6.3, 0.29), (5.45, 0.243),
    (7.0, 0.363), (7.25, 0.335), (7.75, 0.363), (8.4, 0.355), (8.3, 0.33), (8.8, 0.344), (8.9, 0.33),
    (9.2, 0.31), (9.4, 0.31), (7.35, 0.285), (7.9, 0.29), (7.95, 0.25), (7.9, 0.225), (8.6, 0.21),
    (9.35, 0.22), (2.8, 0.264), (3.1, 0.254), (3.5, 0.227), (3.7, 0.194), (3.8, 0.194), (3.5, 0.156),
    (2.9, 0.19), (4.95, 0.20), (4.85, 0.09), (5.0, 0.10), (6.85, 0.09), (8.3, 0.10), (11.8, 0.26),
    (12.7, 0.25), (12.65, 0.33), (12.85, 0.29), (13.35, 0.19), (11.8, 0.15), (11.8, 0.14), (12.9, 0.14),
    (15.7, 0.25), (16.75, 0.14), (16.9, 0.14), (17.4, 0.23), (17.7, 0.29), (0.4, 0.24), (-0.1, 0.21),
    (0.3, 0.19), (0.5, 0.15), (-0.25, 0.07), (-0.75, 0.09), (-0.8, 0.167), (-1.35, 0.163), (-0.6, 0.225),
    (-1.05, 0.225), (-0.1, 0.23), (-2.05, 0.23), (1.3, 0.05), (0.9, 0.17), (1.05, 0.156), (1.8, 0.163),
    (-2.7, 0.094), (-3.45, 0.16), (-3.6, 0.128), (-3.5, 0.116), (-4.2, 0.113), (-4.05, 0.16), (-4.15, 0.13),
    (-3.95, 0.222), (-5.1, 0.222), (-5.7, 0.152), (-5.85, 0.19), (-5.1, 0.105), (-4.3, 0.09), (-8.35, 0.19),
    (-8.1, 0.152), (-7.9, 0.222), (-8.9, 0.08), (-9.8, 0.13), (-10.8, 0.23), (-11.45, 0.18), (-11.85, 0.14),
    (-11.55, 0.14),
    (-1.05, -0.106), (2.05, -0.067), (1.55, -0.072), (1.85, -0.09), (-2.7, -0.067), (-3.35, -0.106),
    (-3.1, -0.114), (-2.4, -0.13), (-5.1, -0.127), (-4.7, -0.138), (-4.55, -0.14), (-4.5, -0.18),
    (-4.15, -0.177), (-4.2, -0.23), (-3.95, -0.23), (-2.7, -0.26), (-7.1, -0.117), (-6.05, -0.156),
    (-10.15, -0.138), (-11.1, -0.17), (-9.4, -0.18), (-8.2, -0.208), (-8.0, -0.17), (-13.7, -0.208),
    (-13.1, -0.149), (-13.1, -0.247), (-12.75, -0.325), (-12.15, -0.346), (-12.05, -0.37), (-14.05, -0.357),
    (-9.1, -0.27), (-8.4, -0.28), (-8.1, -0.297), (-7.8, -0.297), (-7.5, -0.297), (-7.15, -0.325),
    (-6.9, -0.346), (-6.55, -0.36), (-8.6, -0.346), (-8.2, -0.368), (-5.2, -0.27), (-4.7, -0.28),
    (-4.5, -0.31), (-4.15, -0.294), (-4.2, -0.38), (-4.05, -0.46), (-2.1, -0.31), (-0.75, -0.35),
    (-0.2, -0.37), (0.85, -0.33), (-1.4, -0.23), (-1.15, -0.244), (-1.05, -0.23), (-1.15, -0.166),
    (-1.05, -0.197), (-0.6, -0.17), (-0.3, -0.153), (-0.25, -0.18), (0.0, -0.185), (0.2, -0.185),
    (0.35, -0.17), (0.5, -0.156), (0.6, -0.177), (0.75, -0.142), (0.85, -0.138), (0.9, -0.156), (0.4, -0.19),
    (1.05, -0.22), (1.45, -0.22), (-0.25, -0.46), (0.2, -0.46), (-1.35, -0.48), (-1.5, -0.568), (0.3, -0.588),
    (3.0, -0.14), (3.8, -0.17), (3.8, -0.37), (4.35, -0.26), (4.65, -0.297), (4.25, -0.485), (4.8, -0.50),
    (4.8, -0.10), (4.95, -0.106), (5.4, -0.106), (4.85, -0.41), (4.8, -0.297), (7.05, -0.18), (7.35, -0.197),
    (7.25, -0.41), (8.7, -0.17), (8.6, -0.23), (8.7, -0.24), (9.35, -0.27), (8.8, -0.34), (9.3, -0.37),
    (10.45, -0.22), (10.5, -0.24), (11.8, -0.106), (11.8, -0.153), (11.8, -0.27), (12.45, -0.067),
    (12.1, -0.22), (12.4, -0.224), (12.7, -0.228), (12.9, -0.24), (13.05, -0.14), (13.2, -0.15),
    (13.75, -0.197), (-11.1, -0.477), (-12.7, -0.448), (-13.1, -0.49), (-13.2, -0.58), (-12.1, -0.58),
    (-11.1, -0.588), (-9.15, -0.46), (-9.1, -0.50), (-8.35, -0.505), (-7.1, -0.48), (-7.1, -0.505),
]

letters = ["A", "B", "C", "D", "E", "F", "G", "H"]
markers = ["SMI312+ dystrophic neurites", "GFAP+ astrocytes", "IBA1+ microglia", "CD68+ microglia"]
groups = ["non-carriers", "carriers"]

x_ticks_wide = [-15, -10, -5, 0, 5, 10, 15, 20]
x_labels_wide = ["\u221215", "", "\u22125", "0", "5", "10", "15", "20"]
x_ticks_narrow = [-15, -10, -5, 0, 5, 10, 15]
x_labels_narrow = ["\u221215", "\u221210", "\u22125", "0", "5", "10", "15"]
y_ticks_half = [-0.5, 0.0, 0.5]
y_labels_half = ["\u22120.5", "0.0", "0.5"]
y_ticks_fifth = [-0.6, -0.4, -0.2, 0.0, 0.2, 0.4, 0.6]

BOX = "#555555"
TICK_TXT = "#6f6f6f"
TITLE = "#404040"
W, H = 788, 1622

sns.set_style("ticks")
plt.rcParams["font.family"] = ["Liberation Sans", "DejaVu Sans"]

fig = plt.figure(figsize=(W / 100, H / 100), dpi=100)
fig.patch.set_facecolor("white")

# name, points, box (left, top, right, bottom in px), xlim, ylim, y ticks, y labels
panels = [
    (a_pts, (95, 47, 372, 322), (-16.38, 20.45), (-0.862, 0.920), y_ticks_half, y_labels_half),
    (b_pts, (498, 47, 774, 322), (-15.21, 19.15), (-0.868, 0.945), y_ticks_half, y_labels_half),
    (c_pts, (95, 456, 372, 733), (-16.38, 20.45), (-0.663, 0.726), y_ticks_fifth,
     ["\u22120.6", "", "\u22120.2", "0.0", "0.2", "0.4", "0.6"]),
    (d_pts, (497, 456, 774, 731), (-15.37, 19.15), (-0.822, 0.892), y_ticks_half, y_labels_half),
    (e_pts, (95, 867, 372, 1141), (-16.38, 20.45), (-0.665, 0.615), y_ticks_fifth,
     ["\u22120.6", "", "\u22120.2", "0.0", "0.2", "0.4", "0.6"]),
    (f_pts, (497, 865, 773, 1141), (-15.37, 19.02), (-0.767, 0.701), y_ticks_fifth,
     ["\u22120.6", "", "\u22120.2", "", "0.2", "0.4", "0.6"]),
    (g_pts, (95, 1282, 371, 1557), (-16.38, 20.36), (-0.555, 0.735), [-0.4, -0.2, 0.0, 0.2, 0.4, 0.6],
     ["\u22120.4", "", "0.0", "0.2", "0.4", "0.6"]),
    (h_pts, (497, 1282, 773, 1557), (-15.37, 19.02), (-0.634, 0.660), y_ticks_fifth,
     ["\u22120.6", "", "\u22120.2", "0.0", "0.2", "0.4", "0.6"]),
]

# baselines (px from top) for letter, title line 1, title line 2
text_rows = [(38, 20, 43), (38, 20, 43), (442, 427, 452), (444, 427, 451),
             (855, 837, 860), (853, 836, 860), (1273, 1252, 1277), (1273, 1252, 1277)]
letter_x = [3, 411, 2, 412, 2, 411, 2, 412]


def fx(px):
    return px / W


def fy(py):
    return 1 - py / H


def title_line2(cx, base, group):
    parts = [("APOE", dict(fontweight="bold", fontstyle="italic")),
             ("\u03b5", dict(fontweight="normal")),
             ("4 " + group, dict(fontweight="bold"))]
    renderer = fig.canvas.get_renderer()
    texts = [fig.text(0, fy(base), s, fontsize=15.5, color=TITLE, ha="left", va="baseline", **kw)
             for s, kw in parts]
    widths = [t.get_window_extent(renderer).width for t in texts]
    x = cx - sum(widths) / 2
    for t, w in zip(texts, widths):
        t.set_x(fx(x))
        x += w


for i, (pts, box, xlim, ylim, yt, yl) in enumerate(panels):
    left, top, right, bottom = box
    ax = fig.add_axes([fx(left), fy(bottom), (right - left) / W, (bottom - top) / H])
    df = pd.DataFrame(pts, columns=["duration", "ks"])
    sns.scatterplot(data=df, x="duration", y="ks", ax=ax, marker="o", s=34,
                    facecolor="none", edgecolor="black", linewidth=0.7, legend=False)
    ax.set_xlim(*xlim)
    ax.set_ylim(*ylim)
    wide = i % 2 == 0
    ax.set_xticks(x_ticks_wide if wide else x_ticks_narrow)
    ax.set_xticklabels(x_labels_wide if wide else x_labels_narrow)
    ax.set_yticks(yt)
    ax.set_yticklabels(yl, rotation=90, va="center")
    for sp in ax.spines.values():
        sp.set_visible(True)
        sp.set_color(BOX)
        sp.set_linewidth(0.9)
    ax.tick_params(direction="out", length=6.5, width=0.9, color=BOX,
                   labelcolor=TICK_TXT, labelsize=11, pad=9)
    ax.set_xlabel("difference in duration", fontsize=11, color=TICK_TXT)
    ax.set_ylabel("KS difference in histogram", fontsize=11, color=TICK_TXT)
    h = bottom - top
    w = right - left
    ax.xaxis.set_label_coords(0.5, -54 / h)
    ax.xaxis.label.set_va("center")
    ax.yaxis.set_label_coords(-65 / w, 0.5)
    ax.yaxis.label.set_va("center")

    letter_base, t1_base, t2_base = text_rows[i]
    cx = (left + right) / 2
    fig.text(fx(letter_x[i]), fy(letter_base), letters[i], fontsize=32, fontweight="bold",
             color="black", ha="left", va="baseline")
    fig.text(fx(cx), fy(t1_base), markers[i // 2], fontsize=15.5, fontweight="bold",
             color=TITLE, ha="center", va="baseline")
    title_line2(cx, t2_base, groups[i % 2])

fig.savefig("out.png", dpi=100, facecolor="white")
